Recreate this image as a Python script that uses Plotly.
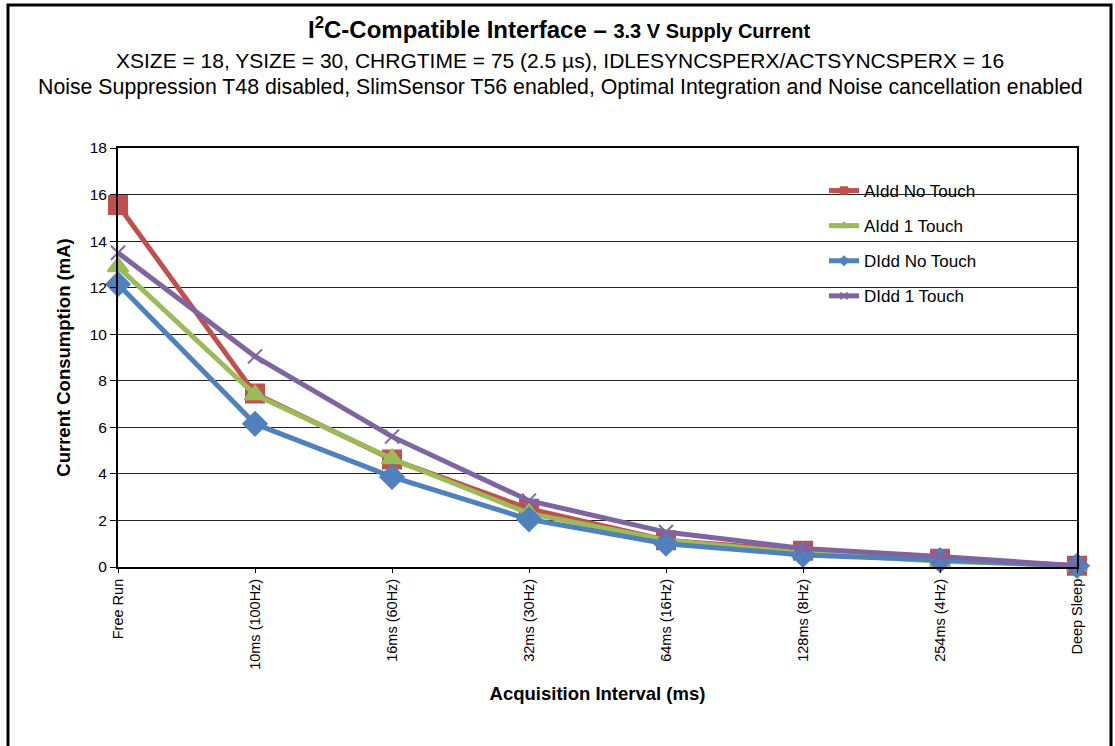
import plotly.graph_objects as go

intervals = ["Free Run", "10ms (100Hz)", "16ms (60Hz)", "32ms (30Hz)",
             "64ms (16Hz)", "128ms (8Hz)", "254ms (4Hz)", "Deep Sleep"]

aidd_no_touch = [15.55, 7.45, 4.62, 2.5, 1.15, 0.7, 0.35, 0.05]
aidd_1_touch = [12.9, 7.4, 4.65, 2.3, 1.15, 0.6, 0.25, 0.05]
didd_no_touch = [12.15, 6.15, 3.87, 2.05, 1.0, 0.52, 0.3, 0.05]
didd_1_touch = [13.5, 9.05, 5.6, 2.85, 1.5, 0.8, 0.45, 0.05]

series = [
    ("AIdd No Touch", aidd_no_touch, "#C0504D", "square", 18),
    ("AIdd 1 Touch", aidd_1_touch, "#9BBB59", "triangle-up", 18),
    ("DIdd No Touch", didd_no_touch, "#4F81BD", "diamond", 18),
    ("DIdd 1 Touch", didd_1_touch, "#8064A2", "x-thin-open", 14),
]

FONT = "Liberation Sans, Arial, sans-serif"

# plot area in page pixels (body margin is removed when the page loads)
PL, PT, PW, PH = 118, 148, 959, 419


def px_x(x):
    return (x - PL) / PW


def px_y(y):
    return (PT + PH - y) / PH


fig = go.Figure()
for name, vals, color, symbol, size in series:
    fig.add_trace(go.Scatter(
        x=list(range(len(intervals))),
        y=vals,
        name=name,
        mode="lines+markers",
        line=dict(color=color, width=5),
        marker=dict(symbol=symbol, size=size, color=color,
                    line=dict(color=color, width=2)),
        cliponaxis=False,
        showlegend=False,
    ))

# legend entries with the small Excel-style markers
for name, vals, color, symbol, size in series:
    fig.add_trace(go.Scatter(
        x=[None], y=[None],
        name=name,
        legendgroup=name,
        mode="lines+markers",
        line=dict(color=color, width=5),
        marker=dict(symbol=symbol, size=7, color=color,
                    line=dict(color=color, width=1.5)),
    ))

fig.update_layout(
    width=1115,
    height=746,
    margin=dict(l=PL, r=1115 - PL - PW, t=PT, b=746 - PT - PH),
    paper_bgcolor="white",
    plot_bgcolor="white",
    font=dict(family=FONT, size=15, color="black"),
    showlegend=True,
    legend=dict(
        x=px_x(824), y=px_y(173), xanchor="left", yanchor="top",
        font=dict(size=17), tracegroupgap=10,
        bgcolor="rgba(0,0,0,0)",
    ),
    xaxis=dict(
        range=[0, 7],
        tickvals=list(range(len(intervals))),
        ticktext=intervals,
        tickangle=-90,
        showgrid=False,
        showline=True, linecolor="black", linewidth=2, mirror=True,
        ticks="outside", ticklen=4, tickcolor="black",
        tickfont=dict(size=14.5),
        automargin=False,
        title=dict(text="<b>Acquisition Interval (ms)</b>", font=dict(size=18.5), standoff=18),
    ),
    yaxis=dict(
        range=[0, 18],
        dtick=2,
        showgrid=True, gridcolor="#222", gridwidth=1,
        showline=True, linecolor="black", linewidth=2, mirror=True,
        ticks="outside", ticklen=6, tickcolor="black",
        tickfont=dict(size=15.5),
        zeroline=False,
        automargin=False,
        title=dict(text="<b>Current Consumption (mA)</b>", font=dict(size=18.5), standoff=14),
    ),
)

# title lines, centred on the whole chart rather than the plot area
fig.add_annotation(
    xref="paper", yref="paper", x=px_x(559), y=px_y(28), xanchor="center", yanchor="middle",
    text="<b>I<sup>2</sup>C-Compatible Interface – <span style='font-size:20px'>3.3 V Supply Current</span></b>",
    showarrow=False, font=dict(size=24),
)
fig.add_annotation(
    xref="paper", yref="paper", x=px_x(560), y=px_y(60), xanchor="center", yanchor="middle",
    text="XSIZE = 18, YSIZE = 30, CHRGTIME = 75 (2.5 µs), IDLESYNCSPERX/ACTSYNCSPERX = 16",
    showarrow=False, font=dict(size=21),
)
fig.add_annotation(
    xref="paper", yref="paper", x=px_x(560), y=px_y(87), xanchor="center", yanchor="middle",
    text="Noise Suppression T48 disabled, SlimSensor T56 enabled, Optimal Integration and Noise cancellation enabled",
    showarrow=False, font=dict(size=21.3),
)

# outer chart frame
fig.add_shape(
    type="rect", xref="paper", yref="paper",
    x0=px_x(8), x1=px_x(1111),
    y0=-0.6, y1=px_y(5),
    line=dict(color="black", width=3), fillcolor="rgba(0,0,0,0)",
)

fig.write_html("out.html", config={"displayModeBar": False},
               post_script="document.body.style.margin='0';")
